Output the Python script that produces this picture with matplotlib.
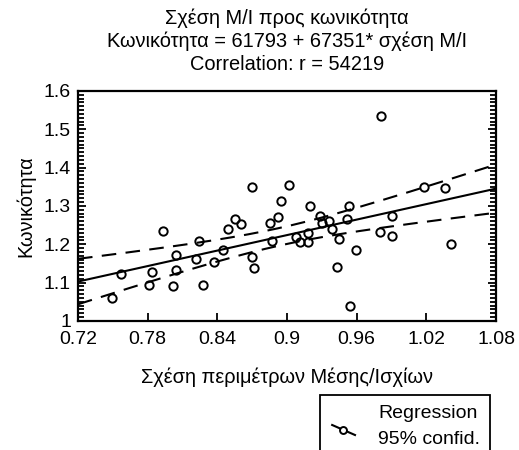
import numpy as np
import matplotlib
matplotlib.use('Agg')
import matplotlib.pyplot as plt
from matplotlib.ticker import MultipleLocator, FuncFormatter
from matplotlib.patches import Rectangle
from matplotlib.lines import Line2D

plt.rcParams['font.family'] = ['Liberation Sans', 'DejaVu Sans']

# ratio waist/hip perimeter vs conicity index
ratio = [0.749, 0.757, 0.793, 0.781, 0.784, 0.802, 0.804, 0.804, 0.822, 0.824,
         0.828, 0.837, 0.845, 0.849, 0.855, 0.860, 0.870, 0.870, 0.872, 0.885,
         0.887, 0.892, 0.895, 0.902, 0.908, 0.911, 0.918, 0.918, 0.920, 0.928,
         0.930, 0.936, 0.939, 0.945, 0.943, 0.952, 0.953, 0.954, 0.959, 0.981,
         0.980, 0.990, 0.990, 1.018, 1.036, 1.041]
conicity = [1.061, 1.123, 1.236, 1.094, 1.129, 1.092, 1.132, 1.172, 1.161, 1.208,
            1.093, 1.154, 1.185, 1.240, 1.266, 1.252, 1.350, 1.167, 1.137, 1.255,
            1.208, 1.272, 1.314, 1.355, 1.220, 1.205, 1.205, 1.230, 1.300, 1.274,
            1.255, 1.262, 1.241, 1.213, 1.140, 1.266, 1.300, 1.040, 1.185, 1.534,
            1.233, 1.274, 1.221, 1.350, 1.346, 1.201]

intercept = 0.61793
slope = 0.67351

title_lines = ['Σχέση M/I προς κωνικότητα',
               'Κωνικότητα = 61793 + 67351* σχέση M/I',
               'Correlation: r = 54219']

x = np.array(ratio)
y = np.array(conicity)
n = len(x)

xs = np.linspace(0.72, 1.08, 200)
fit = intercept + slope * xs
res = y - (intercept + slope * x)
se = np.sqrt(np.sum(res ** 2) / (n - 2))
sxx = np.sum((x - x.mean()) ** 2)
half = 2.014 * se * np.sqrt(1.0 / n + (xs - x.mean()) ** 2 / sxx)

fs = 14

fig = plt.figure(figsize=(5.19, 4.5), dpi=100)
ax = fig.add_axes([0.1503, 0.2867, 0.8054, 0.5111])

ax.plot(x, y, 'o', mfc='none', mec='black', ms=6, mew=1.4, zorder=3)
ax.plot(xs, fit, color='black', lw=1.5)
ax.plot(xs, fit + half, color='black', lw=1.5, dashes=(7, 4.5))
ax.plot(xs, fit - half, color='black', lw=1.5, dashes=(7, 4.5))

ax.set_xlim(0.72, 1.08)
ax.set_ylim(1.0, 1.6)
ax.xaxis.set_major_locator(MultipleLocator(0.06))
ax.yaxis.set_major_locator(MultipleLocator(0.1))
ax.yaxis.set_minor_locator(MultipleLocator(0.01))
ax.xaxis.set_major_formatter(FuncFormatter(lambda v, p: '%g' % round(v, 2)))
ax.yaxis.set_major_formatter(FuncFormatter(lambda v, p: '%g' % round(v, 2)))
ax.tick_params(axis='y', which='both', direction='in', left=True, right=True,
               labelsize=fs, width=1.3, pad=5)
ax.tick_params(axis='y', which='major', length=6)
ax.tick_params(axis='y', which='minor', length=4)
ax.tick_params(axis='x', direction='in', bottom=True, top=False, length=6,
               width=1.3, labelsize=fs, pad=7.5)
for s in ax.spines.values():
    s.set_linewidth(1.6)

# nudge the lowest y label up a little, as in the original
for lab in ax.get_yticklabels():
    if lab.get_text() == '1':
        lab.set_verticalalignment('center_baseline')

ax.set_xlabel('Σχέση περιμέτρων Μέσης/Ισχίων', fontsize=14.4, labelpad=14)
ax.set_ylabel('Κωνικότητα', fontsize=14.4, labelpad=6)

for i, t in enumerate(title_lines):
    fig.text(0.553, 0.96 - i * 0.0515, t, ha='center', va='center', fontsize=14.4)

# legend box
fig.patches.append(Rectangle((0.617, -0.05), 0.328, 0.172, transform=fig.transFigure,
                             fill=False, edgecolor='black', lw=1.3))
fig.lines.append(Line2D([0.640, 0.684], [0.0556, 0.0333], transform=fig.transFigure,
                        color='black', lw=1.5))
fig.lines.append(Line2D([0.661], [0.0444], transform=fig.transFigure, marker='o',
                        mfc='white', mec='black', ms=5, mew=1.4))
fig.text(0.729, 0.082, 'Regression', fontsize=fs, va='center')
fig.text(0.729, 0.0244, '95% confid.', fontsize=fs, va='center')

fig.savefig('out.png', dpi=100)
